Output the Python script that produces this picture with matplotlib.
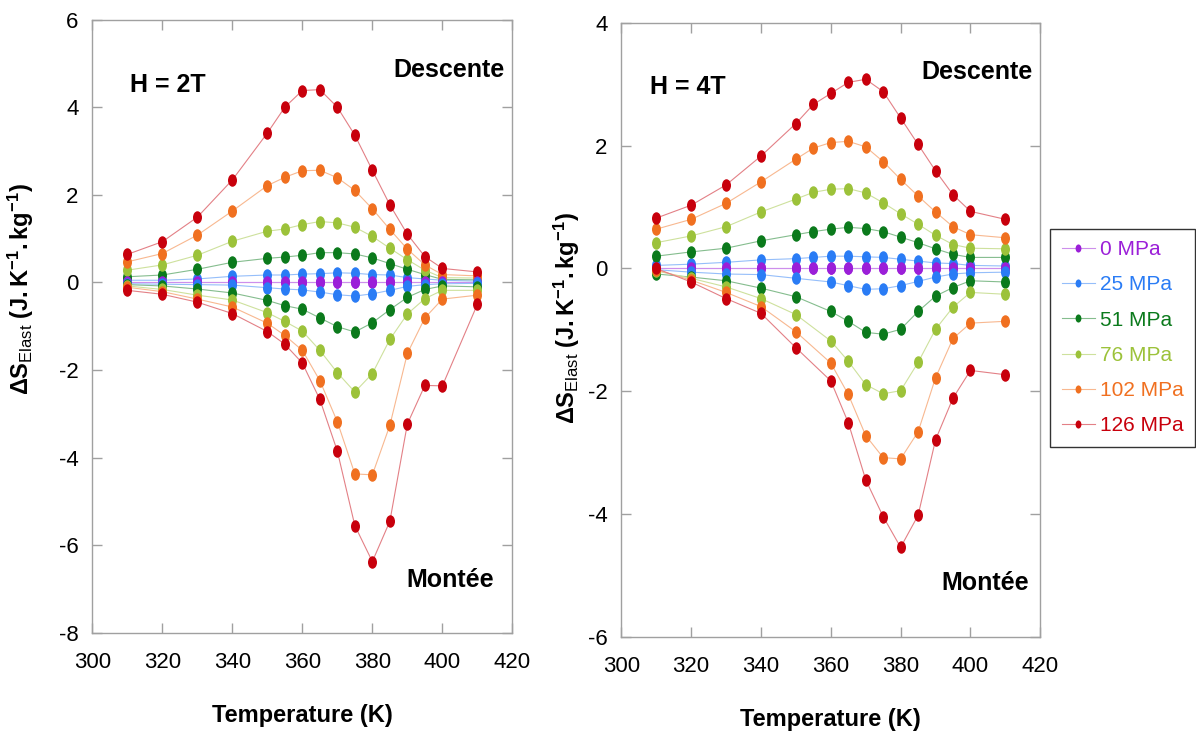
import numpy as np
import matplotlib
matplotlib.use('Agg')
import matplotlib.pyplot as plt
from matplotlib import font_manager
from matplotlib.path import Path
from matplotlib.transforms import Affine2D
from matplotlib.colors import to_rgb

nan = np.nan

temps = [310, 320, 330, 340, 350, 355, 360, 365, 370, 375, 380, 385, 390, 395, 400, 410]
labels = ['0 MPa', '25 MPa', '51 MPa', '76 MPa', '102 MPa', '126 MPa']
colors = ['#9b1fd8', '#2a7cf5', '#0b7a1c', '#9cc23a', '#f07020', '#c8000c']

# H = 2T, descente (upper branch)
h2_desc_0 = [0, 0, 0, 0, 0, 0, 0, 0, 0, 0, 0, 0, 0, 0, 0, 0]
h2_desc_25 = [0.05, 0.05, 0.08, 0.14, 0.17, 0.17, 0.19, 0.2, 0.22, 0.21, 0.18, 0.17, 0.11, 0.08, 0.05, 0.03]
h2_desc_51 = [0.13, 0.17, 0.30, 0.46, 0.55, 0.58, 0.62, 0.68, 0.68, 0.65, 0.56, 0.43, 0.30, 0.18, 0.07, 0.06]
h2_desc_76 = [0.28, 0.40, 0.62, 0.94, 1.17, 1.22, 1.32, 1.39, 1.36, 1.26, 1.05, 0.78, 0.52, 0.28, 0.11, 0.10]
h2_desc_102 = [0.47, 0.66, 1.08, 1.63, 2.21, 2.40, 2.55, 2.56, 2.39, 2.10, 1.68, 1.21, 0.76, 0.40, 0.18, 0.15]
h2_desc_126 = [0.64, 0.93, 1.49, 2.34, 3.41, 4.00, 4.38, 4.40, 4.00, 3.36, 2.56, 1.77, 1.10, 0.59, 0.32, 0.24]

# H = 2T, montee (lower branch)
h2_mont_0 = [0, 0, 0, 0, 0, 0, 0, 0, 0, 0, 0, 0, 0, 0, 0, 0]
h2_mont_25 = [-0.03, -0.04, -0.05, -0.06, -0.12, -0.15, -0.17, -0.22, -0.28, -0.31, -0.26, -0.18, -0.09, -0.05, -0.03, -0.02]
h2_mont_51 = [-0.05, -0.08, -0.15, -0.24, -0.41, -0.53, -0.61, -0.81, -1.01, -1.13, -0.92, -0.62, -0.34, -0.16, -0.08, -0.10]
h2_mont_76 = [-0.08, -0.16, -0.29, -0.40, -0.69, -0.89, -1.11, -1.55, -2.06, -2.50, -2.08, -1.30, -0.72, -0.37, -0.18, -0.18]
h2_mont_102 = [-0.11, -0.21, -0.38, -0.56, -0.93, -1.21, -1.55, -2.24, -3.18, -4.37, -4.39, -3.26, -1.62, -0.81, -0.38, -0.29]
h2_mont_126 = [-0.18, -0.27, -0.45, -0.71, -1.12, -1.41, -1.84, -2.67, -3.85, -5.55, -6.37, -5.45, -3.23, -2.35, -2.36, -0.50]

# H = 4T, descente
h4_desc_0 = [0, 0, 0, 0, 0, 0, 0, 0, 0, 0, 0, 0, 0, 0, 0, 0]
h4_desc_25 = [0.05, 0.07, 0.10, 0.14, 0.16, 0.18, 0.20, 0.20, 0.19, 0.18, 0.15, 0.12, 0.09, 0.08, 0.05, 0.04]
h4_desc_51 = [0.20, 0.27, 0.33, 0.45, 0.55, 0.60, 0.64, 0.67, 0.65, 0.60, 0.51, 0.42, 0.32, 0.23, 0.18, 0.18]
h4_desc_76 = [0.42, 0.53, 0.68, 0.92, 1.13, 1.24, 1.29, 1.30, 1.23, 1.07, 0.89, 0.72, 0.54, 0.39, 0.33, 0.32]
h4_desc_102 = [0.64, 0.80, 1.06, 1.41, 1.78, 1.96, 2.05, 2.07, 1.98, 1.74, 1.45, 1.18, 0.92, 0.68, 0.55, 0.50]
h4_desc_126 = [0.82, 1.03, 1.36, 1.83, 2.36, 2.67, 2.85, 3.03, 3.08, 2.88, 2.45, 2.02, 1.59, 1.20, 0.93, 0.80]

# H = 4T, montee (no point at 355 K)
h4_mont_0 = [0, 0, 0, 0, 0, 0, 0, 0, 0, 0, 0, 0, 0, 0, 0, 0]
h4_mont_25 = [-0.02, -0.06, -0.09, -0.10, -0.16, nan, -0.22, -0.28, -0.34, -0.33, -0.28, -0.21, -0.14, -0.09, -0.07, -0.06]
h4_mont_51 = [-0.09, -0.14, -0.20, -0.32, -0.46, nan, -0.70, -0.86, -1.04, -1.07, -0.99, -0.70, -0.45, -0.31, -0.20, -0.22]
h4_mont_76 = [-0.04, -0.16, -0.30, -0.49, -0.75, nan, -1.18, -1.51, -1.89, -2.04, -1.99, -1.53, -0.99, -0.63, -0.39, -0.42]
h4_mont_102 = [-0.02, -0.19, -0.39, -0.62, -1.03, nan, -1.54, -2.05, -2.72, -3.08, -3.10, -2.66, -1.78, -1.14, -0.89, -0.86]
h4_mont_126 = [0.0, -0.22, -0.49, -0.73, -1.29, nan, -1.83, -2.51, -3.44, -4.04, -4.54, -4.02, -2.79, -2.11, -1.66, -1.73]

h2_series = [h2_desc_0, h2_desc_25, h2_desc_51, h2_desc_76, h2_desc_102, h2_desc_126,
             h2_mont_0, h2_mont_25, h2_mont_51, h2_mont_76, h2_mont_102, h2_mont_126]
h4_series = [h4_desc_0, h4_desc_25, h4_desc_51, h4_desc_76, h4_desc_102, h4_desc_126,
             h4_mont_0, h4_mont_25, h4_mont_51, h4_mont_76, h4_mont_102, h4_mont_126]

# fonts: narrow sans if present
names = set(f.name for f in font_manager.fontManager.ttflist)
fam = 'Liberation Sans Narrow' if 'Liberation Sans Narrow' in names else 'Liberation Sans'
plt.rcParams['font.family'] = [fam, 'DejaVu Sans']
plt.rcParams['mathtext.fontset'] = 'custom'
plt.rcParams['mathtext.rm'] = fam
plt.rcParams['mathtext.bf'] = fam + ':bold'
plt.rcParams['mathtext.it'] = fam + ':italic'
plt.rcParams['axes.unicode_minus'] = False

# tall ellipse marker
ell = Path.unit_circle().transformed(Affine2D().scale(0.72, 1.0))


def light(c, k=0.5):
    r = np.array(to_rgb(c))
    return tuple(r * (1 - k) + k)


def draw(ax, series):
    handles = []
    for i, vals in enumerate(series):
        c = colors[i % 6]
        t = np.array(temps, dtype=float)
        v = np.array(vals, dtype=float)
        m = ~np.isnan(v)
        h, = ax.plot(t[m], v[m], color=light(c), lw=0.8, marker=ell, ms=9,
                     mfc=c, mec=c, mew=0)
        handles.append(h)
    return handles


def style(ax, ylim):
    ax.set_xlim(300, 420)
    ax.set_ylim(*ylim)
    ax.set_xticks(range(300, 421, 20))
    ax.set_yticks(range(ylim[0], ylim[1] + 1, 2))
    for s in ax.spines.values():
        s.set_color('#a0a0a0')
        s.set_linewidth(1.0)
    ax.tick_params(direction='in', top=True, right=True, length=7, width=1,
                   color='#a0a0a0', labelsize=16)
    ax.tick_params(axis='x', pad=14)
    ax.tick_params(axis='y', pad=10)
    ax.set_xlabel('Temperature (K)', fontsize=17, fontweight='bold', labelpad=22)
    ax.set_ylabel(r'$\mathbf{\Delta S}_{\mathrm{Elast}}\ \mathbf{(J.K^{-1}.kg^{-1})}$', fontsize=17)


fig = plt.figure(figsize=(11.96, 7.40), dpi=100)
ax1 = fig.add_axes([0.0772, 0.1446, 0.3512, 0.829])
ax2 = fig.add_axes([0.5195, 0.1392, 0.3503, 0.830])

hs = draw(ax1, h2_series)
draw(ax2, h4_series)
style(ax1, (-8, 6))
style(ax2, (-6, 4))
ax1.yaxis.set_label_coords(-0.133, 0.56)
ax2.yaxis.set_label_coords(-0.093, 0.52)

tkw = dict(fontsize=18, fontweight='bold', ha='center', va='center')
ax1.text(0.18, 0.893, 'H = 2T', transform=ax1.transAxes, **tkw)
ax1.text(0.849, 0.918, 'Descente', transform=ax1.transAxes, **tkw)
ax1.text(0.852, 0.086, 'Montée', transform=ax1.transAxes, **tkw)
ax2.text(0.159, 0.896, 'H = 4T', transform=ax2.transAxes, **tkw)
ax2.text(0.849, 0.92, 'Descente', transform=ax2.transAxes, **tkw)
ax2.text(0.868, 0.088, 'Montée', transform=ax2.transAxes, **tkw)

leg = fig.legend(hs[:6], labels, loc='upper left', bbox_to_anchor=(0.878, 0.691),
                 fontsize=15, frameon=True, fancybox=False, edgecolor='black',
                 handlelength=1.6, handletextpad=0.25, labelspacing=0.78,
                 borderpad=0.55, borderaxespad=0, markerscale=0.65)
leg.get_frame().set_linewidth(1.0)
for txt, c in zip(leg.get_texts(), colors):
    txt.set_color(c)

fig.savefig('out.png', dpi=100)
